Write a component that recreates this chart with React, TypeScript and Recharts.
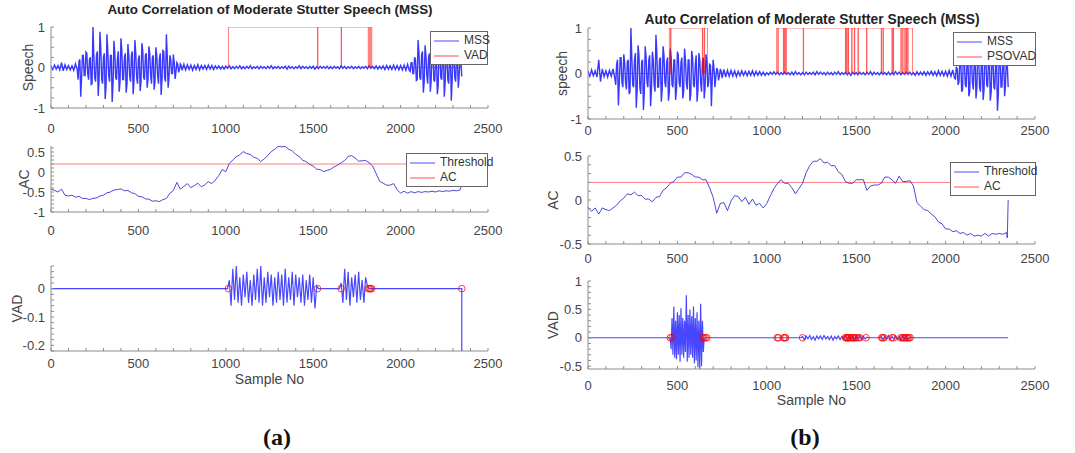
import React from "react";
import { ComposedChart, Line, Scatter, XAxis, YAxis } from "recharts";

// ---- data ----
const SAMPLE_STEP = 10; // speech values every 10 samples
const AC_STEP = 20; // auto correlation values every 20 samples

const xMajor = [0, 500, 1000, 1500, 2000, 2500];

// (a) speech, 0..2350
const mssA = [
  0.04, -0.05, 0.06, -0.04, 0.05, -0.06, 0.12, -0.08, 0.07, -0.05,
  0.05, -0.06, 0.04, -0.07, 0.09, -0.05, 0.15, -0.72, 0.3, -0.2,
  0.38, -0.15, 0.2, -0.42, 1.0, -0.25, 0.3, -0.7, 0.88, -0.3,
  0.25, -0.78, 0.82, -0.2, 0.3, -0.85, 0.66, -0.25, 0.22, -0.6,
  0.72, -0.3, 0.25, -0.62, 0.58, -0.2, 0.3, -0.66, 0.68, -0.25,
  0.2, -0.58, 0.6, -0.25, 0.3, -0.5, 0.52, -0.2, 0.25, -0.55,
  0.5, -0.2, 0.2, -0.68, 0.42, -0.25, 0.82, -0.5, 0.3, -0.15,
  0.32, -0.28, 0.12, -0.12, 0.09, -0.07, 0.08, -0.06, 0.07, -0.05,
  0.06, -0.07, 0.05, -0.05, 0.07, -0.06, 0.05, -0.04, 0.05, -0.05,
  0.06, -0.04, 0.05, -0.05, 0.04, -0.03, 0.04, -0.04, 0.03, -0.04,
  0.03, -0.02, 0.04, -0.03, 0.02, -0.03, 0.03, -0.02, 0.04, -0.03,
  0.02, -0.03, 0.03, -0.02, 0.04, -0.03, 0.02, -0.02, 0.03, -0.03,
  0.03, -0.02, 0.02, -0.03, 0.03, -0.02, 0.04, -0.03, 0.02, -0.02,
  0.03, -0.03, 0.02, -0.02, 0.03, -0.04, 0.03, -0.02, 0.02, -0.03,
  0.02, -0.02, 0.04, -0.03, 0.03, -0.02, 0.02, -0.03, 0.03, -0.02,
  0.03, -0.04, 0.02, -0.03, 0.03, -0.02, 0.02, -0.02, 0.03, -0.03,
  0.02, -0.03, 0.03, -0.02, 0.02, -0.03, 0.04, -0.02, 0.03, -0.03,
  0.02, -0.02, 0.03, -0.03, 0.02, -0.02, 0.03, -0.03, 0.02, -0.02,
  0.03, -0.03, 0.04, -0.02, 0.03, -0.03, 0.04, -0.04, 0.03, -0.03,
  0.04, -0.05, 0.05, -0.04, 0.04, -0.05, 0.06, -0.05, 0.05, -0.06,
  0.05, -0.06, 0.06, -0.07, 0.08, -0.08, 0.12, -0.15, 0.25, -0.32,
  0.68, -0.25, 0.3, -0.62, 0.55, -0.2, 0.25, -0.6, 0.52, -0.3,
  0.2, -0.66, 0.5, -0.25, 0.3, -0.72, 0.46, -0.3, 0.25, -0.82,
  0.45, -0.25, 0.3, -0.5, 0.3, -0.22,
];
// (a) voiced parts, in-between samples (155..745 and 2055..2345)
const mssAFine1 = [
  -0.3, 0.2, -0.25, 0.3, -0.2, 0.35, -0.3, 0.25, -0.4, 0.3,
  -0.35, 0.4, -0.3, 0.45, -0.4, 0.35, -0.45, 0.4, -0.35, 0.3,
  -0.4, 0.35, -0.3, 0.4, -0.35, 0.45, -0.3, 0.35, -0.4, 0.3,
  -0.35, 0.4, -0.3, 0.35, -0.4, 0.3, -0.35, 0.4, -0.3, 0.35,
  -0.3, 0.35, -0.4, 0.3, -0.35, 0.3, -0.4, 0.35, -0.3, 0.4,
  -0.35, 0.3, -0.25, 0.2, -0.15, 0.12, -0.1, 0.08, -0.06, 0.05,
];
const mssAFine2 = [
  -0.1, 0.12, -0.15, 0.2, -0.3, 0.35, -0.3, 0.4, -0.35, 0.3,
  -0.4, 0.35, -0.3, 0.4, -0.35, 0.3, -0.45, 0.35, -0.3, 0.4,
  -0.35, 0.3, -0.4, 0.35, -0.3, 0.3, -0.35, 0.25, -0.2, 0.15,
];

// (b) speech, 0..2350
const mssB = [
  0.05, -0.06, 0.08, -0.05, 0.06, -0.08, 0.3, -0.18, 0.1, -0.07,
  0.06, -0.08, 0.07, -0.06, 0.1, -0.1, 0.2, -0.7, 0.35, -0.2,
  0.42, -0.2, 0.25, -0.45, 1.0, -0.25, 0.3, -0.75, 0.62, -0.3,
  0.25, -0.8, 0.6, -0.2, 0.3, -0.72, 0.48, -0.25, 0.85, -0.3,
  0.3, -0.62, 0.6, -0.2, 0.25, -0.6, 0.55, -0.25, 0.3, -0.58,
  0.48, -0.2, 0.25, -0.55, 0.55, -0.2, 0.3, -0.6, 0.5, -0.25,
  0.2, -0.62, 0.45, -0.2, 0.25, -0.55, 0.42, -0.3, 0.2, -0.72,
  0.3, -0.3, 0.12, -0.15, 0.1, -0.1, 0.09, -0.08, 0.07, -0.06,
  0.07, -0.06, 0.06, -0.07, 0.05, -0.05, 0.06, -0.04, 0.05, -0.05,
  0.05, -0.04, 0.06, -0.05, 0.05, -0.04, 0.04, -0.04, 0.03, -0.04,
  0.02, -0.03, 0.03, -0.02, 0.04, -0.02, 0.03, -0.03, 0.02, -0.02,
  0.03, -0.02, 0.02, -0.03, 0.03, -0.03, 0.04, -0.02, 0.02, -0.03,
  0.02, -0.03, 0.03, -0.02, 0.02, -0.02, 0.03, -0.03, 0.04, -0.02,
  0.03, -0.02, 0.02, -0.03, 0.03, -0.02, 0.02, -0.03, 0.03, -0.02,
  0.04, -0.03, 0.02, -0.02, 0.03, -0.03, 0.02, -0.04, 0.03, -0.02,
  0.02, -0.03, 0.03, -0.02, 0.02, -0.03, 0.03, -0.02, 0.04, -0.03,
  0.03, -0.02, 0.02, -0.03, 0.03, -0.02, 0.02, -0.03, 0.03, -0.03,
  0.02, -0.03, 0.04, -0.02, 0.03, -0.03, 0.02, -0.02, 0.03, -0.02,
  0.03, -0.03, 0.02, -0.04, 0.04, -0.03, 0.03, -0.03, 0.04, -0.04,
  0.04, -0.03, 0.05, -0.04, 0.04, -0.05, 0.06, -0.04, 0.05, -0.05,
  0.05, -0.06, 0.07, -0.06, 0.08, -0.1, 0.15, -0.25, 0.35, -0.4,
  0.6, -0.25, 0.3, -0.5, 0.55, -0.2, 0.25, -0.55, 0.5, -0.3,
  0.25, -0.58, 0.5, -0.25, 0.3, -0.6, 0.45, -0.3, 0.25, -0.82,
  0.45, -0.3, 0.25, -0.5, 0.35, -0.3,
];
// (b) voiced parts, in-between samples (155..745 and 2055..2345)
const mssBFine1 = [
  -0.25, 0.3, -0.2, 0.35, -0.3, 0.25, -0.35, 0.3, -0.4, 0.35,
  -0.3, 0.45, -0.35, 0.4, -0.45, 0.3, -0.4, 0.35, -0.3, 0.4,
  -0.35, 0.3, -0.4, 0.45, -0.3, 0.35, -0.35, 0.4, -0.3, 0.35,
  -0.4, 0.35, -0.3, 0.3, -0.35, 0.4, -0.3, 0.35, -0.4, 0.3,
  -0.35, 0.3, -0.45, 0.35, -0.3, 0.4, -0.35, 0.3, -0.4, 0.35,
  -0.3, 0.25, -0.2, 0.18, -0.12, 0.1, -0.08, 0.07, -0.06, 0.05,
];
const mssBFine2 = [
  -0.12, 0.1, -0.18, 0.25, -0.35, 0.3, -0.3, 0.35, -0.4, 0.3,
  -0.35, 0.4, -0.3, 0.35, -0.4, 0.3, -0.35, 0.4, -0.3, 0.35,
  -0.4, 0.3, -0.35, 0.3, -0.45, 0.35, -0.3, 0.3, -0.25, 0.2,
];

// VAD decisions (switch sample, level from there on)
const vadASwitch = [0, 1015, 1525, 1527, 1660, 1662, 1815, 1820, 1825, 1830, 1835, 2350];
const vadALevel = [0, 1, 0, 1, 0, 1, 0, 1, 0, 1, 0, 0];
const vadBSwitch = [
  0, 455, 462, 464, 640, 642, 650, 652, 668, 1055, 1062, 1064, 1093, 1095, 1100, 1102, 1107, 1109,
  1204, 1206, 1440, 1442, 1447, 1449, 1455, 1457, 1475, 1477, 1490, 1492, 1510, 1512, 1558, 1560,
  1640, 1642, 1650, 1652, 1700, 1702, 1707, 1709, 1750, 1752, 1760, 1762, 1772, 1774, 1780, 1782,
  1788, 1790, 1815, 2350,
];
const vadBLevel = [
  0, 1, 0, 1, 0, 1, 0, 1, 0, 1, 0, 1, 0, 1, 0, 1, 0, 1,
  0, 1, 0, 1, 0, 1, 0, 1, 0, 1, 0, 1, 0, 1, 0, 1,
  0, 1, 0, 1, 0, 1, 0, 1, 0, 1, 0, 1, 0, 1, 0, 1,
  0, 1, 0, 0,
];

// auto correlation, 0..2340 every 20 samples, then the last two samples
const acA = [
  -0.42, -0.46, -0.5, -0.43, -0.58, -0.6, -0.58, -0.63, -0.61, -0.66,
  -0.66, -0.69, -0.66, -0.65, -0.6, -0.58, -0.52, -0.5, -0.45, -0.44,
  -0.42, -0.47, -0.46, -0.52, -0.54, -0.61, -0.62, -0.67, -0.68, -0.73,
  -0.72, -0.74, -0.69, -0.66, -0.53, -0.46, -0.26, -0.43, -0.36, -0.29,
  -0.39, -0.34, -0.28, -0.37, -0.32, -0.24, -0.29, -0.2, -0.09, 0.06,
  0.01, 0.21, 0.3, 0.38, 0.43, 0.51, 0.46, 0.44, 0.37, 0.34,
  0.26, 0.33, 0.41, 0.51, 0.57, 0.64, 0.63, 0.64, 0.57, 0.53,
  0.44, 0.39, 0.29, 0.26, 0.19, 0.15, 0.07, 0.06, 0.01, 0.04,
  0.07, 0.13, 0.17, 0.23, 0.29, 0.39, 0.41, 0.35, 0.27, 0.28,
  0.29, 0.23, 0.15, -0.04, -0.23, -0.28, -0.33, -0.33, -0.29, -0.44,
  -0.53, -0.48, -0.53, -0.49, -0.52, -0.49, -0.51, -0.49, -0.5, -0.48,
  -0.5, -0.47, -0.49, -0.47, -0.48, -0.46, -0.47, -0.45,
];
const acATail = [
  { x: 2345, y: -0.38 },
  { x: 2350, y: 0.05 },
];
const acB = [
  -0.08, -0.13, -0.09, -0.16, -0.09, -0.11, -0.12, -0.09, -0.06, -0.01,
  0.02, 0.07, 0.06, 0.09, 0.05, 0.05, 0.01, 0.01, -0.02, 0.03,
  0.04, 0.11, 0.14, 0.19, 0.21, 0.26, 0.26, 0.31, 0.31, 0.29,
  0.26, 0.26, 0.23, 0.23, 0.14, 0.03, -0.15, -0.04, -0.03, -0.12,
  -0.01, 0.05, 0.04, -0.02, 0.03, -0.05, 0.01, -0.06, -0.04, -0.09,
  -0.04, 0.05, 0.13, 0.19, 0.23, 0.19, 0.19, 0.14, 0.07, 0.13,
  0.19, 0.31, 0.39, 0.44, 0.44, 0.47, 0.42, 0.43, 0.39, 0.39,
  0.32, 0.29, 0.21, 0.19, 0.19, 0.23, 0.23, 0.23, 0.11, 0.16,
  0.17, 0.17, 0.19, 0.26, 0.26, 0.23, 0.19, 0.27, 0.21, 0.21,
  0.22, 0.16, -0.03, -0.07, -0.11, -0.12, -0.16, -0.19, -0.25, -0.27,
  -0.33, -0.33, -0.36, -0.35, -0.38, -0.37, -0.4, -0.38, -0.41, -0.4,
  -0.41, -0.38, -0.41, -0.38, -0.39, -0.38, -0.39, -0.37,
];
const acBTail = [
  { x: 2345, y: -0.43 },
  { x: 2350, y: 0.0 },
];
const thresholdA = 0.2;
const thresholdB = 0.2;

// speech kept by the VAD (bursts, rest is zero)
const keptA1Start = 1010;
const keptA1 = [
  0, 0.03, -0.06, 0.07, -0.04, 0.08, -0.05, 0.04, -0.06, 0.05, -0.03,
  0.06, -0.05, 0.03, -0.06, 0.05, -0.04, 0.07, -0.05, 0.08, -0.06,
  0.04, -0.05, 0.06, -0.03, 0.05, -0.06, 0.04, -0.05, 0.06, -0.04,
  0.05, -0.06, 0.07, -0.05, 0.04, -0.04, 0.06, -0.06, 0.05, -0.03,
  0.04, -0.05, 0.05, -0.06, 0.03, -0.04, 0.05, -0.05, 0.04, -0.07,
  0.01, 0,
];
const keptA2Start = 1650;
const keptA2 = [0, 0.02, -0.05, 0.07, -0.04, 0.06, -0.06, 0.04, -0.03, 0.05, -0.05, 0.06, -0.04, 0.03, -0.05, 0.04, 0.01, 0];
const keptAEnd = -0.6; // drop at the last sample
const markersA = [1015, 1525, 1660, 1815, 1822, 1828, 1835, 2350];

const keptB1Start = 460;
const keptB1Step = 5;
const keptB1 = [
  0, -0.2, 0.35, -0.3, 0.55, -0.35, 0.3, -0.38, 0.45, -0.3,
  0.4, -0.42, 0.52, -0.3, 0.35, -0.35, 0.3, -0.25, 0.75, -0.42,
  0.4, -0.35, 0.5, -0.3, 0.38, -0.35, 0.55, -0.45, 0.35, -0.4,
  0.45, -0.52, 0.3, -0.55, 0.6, -0.5, 0.3, -0.25, 0,
];
const keptB2Start = 1190;
const keptB2 = [
  0, 0.02, -0.03, 0.03, -0.02, 0.04, -0.03, 0.02, -0.04, 0.03, -0.02,
  0.03, -0.03, 0.04, -0.02, 0.02, -0.03, 0.03, -0.04, 0.02, -0.02,
  0.03, -0.03, 0.02, -0.02, 0.04, -0.03, 0.03, -0.02, 0.02, -0.03,
  0.03, -0.02, 0.04, -0.03, 0.02, -0.02, 0.01, 0,
];
const keptB3Start = 1630;
const keptB3 = [0, 0.02, -0.03, 0.03, -0.02, 0.04, -0.03, 0.02, -0.02, 0.03, -0.03, 0.02, -0.04, 0.03, -0.02, 0.02, -0.03, 0.01, 0];
const markersB = [
  460, 470, 640, 648, 656, 665, 1058, 1065, 1095, 1100, 1106, 1200, 1440, 1445, 1450, 1455, 1462, 1470,
  1478, 1485, 1492, 1500, 1512, 1520, 1555, 1642, 1648, 1656, 1700, 1708, 1750, 1758, 1765, 1772, 1780,
  1788, 1795, 1802,
];

// ---- tables ----
type Row = { x: number; y: number };
const series = (vals: number[], start: number, step: number): Row[] =>
  vals.map((y, i) => ({ x: start + i * step, y }));
const byX = (a: Row, b: Row) => a.x - b.x;

const mssARows = [
  ...series(mssA, 0, SAMPLE_STEP),
  ...series(mssAFine1, 155, SAMPLE_STEP),
  ...series(mssAFine2, 2055, SAMPLE_STEP),
].sort(byX);
const mssBRows = [
  ...series(mssB, 0, SAMPLE_STEP),
  ...series(mssBFine1, 155, SAMPLE_STEP),
  ...series(mssBFine2, 2055, SAMPLE_STEP),
].sort(byX);
const vadARows = vadASwitch.map((x, i) => ({ x, y: vadALevel[i] }));
const vadBRows = vadBSwitch.map((x, i) => ({ x, y: vadBLevel[i] }));
const acARows = [...series(acA, 0, AC_STEP), ...acATail];
const acBRows = [...series(acB, 0, AC_STEP), ...acBTail];
const thrARows = [{ x: 0, y: thresholdA }, { x: 2350, y: thresholdA }];
const thrBRows = [{ x: 0, y: thresholdB }, { x: 2350, y: thresholdB }];
const keptARows = [
  { x: 0, y: 0 },
  ...series(keptA1, keptA1Start, SAMPLE_STEP),
  ...series(keptA2, keptA2Start, SAMPLE_STEP),
  { x: 2350, y: 0 },
  { x: 2350, y: keptAEnd },
];
const keptBRows = [
  { x: 0, y: 0 },
  ...series(keptB1, keptB1Start, keptB1Step),
  ...series(keptB2, keptB2Start, SAMPLE_STEP),
  ...series(keptB3, keptB3Start, SAMPLE_STEP),
  { x: 2350, y: 0 },
];
const markerARows = markersA.map((x) => ({ x, y: 0 }));
const markerBRows = markersB.map((x) => ({ x, y: 0 }));

// ---- look ----
const FONT = '"Liberation Sans", Arial, Helvetica, sans-serif';
const AXIS = "#8c8c8c";
const TEXT = "#444";
const BLUE = "#0000ff";
const RED = "#ff0000";
const PAD_T = 10;
const PAD_R = 24;
const X_H = 46;

const xMinor = Array.from({ length: 26 }, (_, i) => i * 100);
const steps = (lo: number, hi: number, d: number) => {
  const out: number[] = [];
  for (let v = lo; v <= hi + 1e-9; v += d) out.push(Math.round(v * 1000) / 1000);
  return out;
};

type Box = { x: number; y: number; w: number; h: number };
type PanelProps = {
  box: Box;
  yw: number;
  domain: [number, number];
  yTicks: number[];
  yShown: number[];
  yLabel: string;
  yLabelX: number;
  xGap: number;
  xLabelOffset?: number;
  children: React.ReactNode;
};

const Panel = ({ box, yw, domain, yTicks, yShown, yLabel, yLabelX, xGap, xLabelOffset, children }: PanelProps) => {
  const left = box.x - yw;
  const fmtX = (v: number) => (xMajor.includes(v) ? String(v) : "");
  const fmtY = (v: number) => {
    const r = Math.round(v * 1000) / 1000;
    return yShown.includes(r) ? String(r) : "";
  };
  return (
    <div style={{ position: "absolute", left, top: box.y - PAD_T }}>
      <ComposedChart
        width={box.w + yw + PAD_R}
        height={box.h + PAD_T + X_H}
        margin={{ top: PAD_T, right: PAD_R, bottom: 0, left: 0 }}
      >
        <XAxis
          xAxisId="b"
          type="number"
          dataKey="x"
          domain={[0, 2500]}
          ticks={xMinor}
          interval={0}
          tickFormatter={fmtX}
          height={X_H}
          tickSize={-3}
          tickMargin={xGap - 1}
          stroke={AXIS}
          tick={{ fill: TEXT, fontSize: 13 }}
          allowDataOverflow
          label={
            xLabelOffset === undefined
              ? undefined
              : { value: "Sample No", position: "insideBottom", offset: xLabelOffset, fill: TEXT, fontSize: 14 }
          }
        />
        <XAxis
          xAxisId="t"
          orientation="top"
          type="number"
          dataKey="x"
          domain={[0, 2500]}
          ticks={xMinor}
          interval={0}
          tick={false}
          height={0}
          tickSize={-3}
          stroke={AXIS}
          allowDataOverflow
        />
        <YAxis
          yAxisId="l"
          type="number"
          dataKey="y"
          domain={domain}
          ticks={yTicks}
          interval={0}
          tickFormatter={fmtY}
          width={yw}
          tickSize={-3}
          tickMargin={9}
          stroke={AXIS}
          tick={{ fill: TEXT, fontSize: 13 }}
          allowDataOverflow
          label={{
            value: yLabel,
            angle: -90,
            position: "insideLeft",
            offset: yLabelX - left,
            fill: TEXT,
            fontSize: 14,
            style: { textAnchor: "middle" },
          }}
        />
        <YAxis
          yAxisId="r"
          orientation="right"
          type="number"
          dataKey="y"
          domain={domain}
          ticks={yTicks}
          interval={0}
          tick={false}
          width={0}
          tickSize={-3}
          stroke={AXIS}
          allowDataOverflow
        />
        {children}
      </ComposedChart>
    </div>
  );
};

const on = { xAxisId: "b", yAxisId: "l" } as const;

const ring = (color: string) => (p: any) =>
  <circle cx={p.cx} cy={p.cy} r={3.3} fill="none" stroke={color} strokeOpacity={0.75} strokeWidth={1} />;

const LegendBox = ({ x, y, w, items }: { x: number; y: number; w: number; items: [string, string][] }) => (
  <div
    style={{
      position: "absolute",
      left: x,
      top: y,
      width: w,
      background: "#fff",
      border: "1px solid #666",
      padding: "1px 0",
      fontSize: 12,
      lineHeight: "15px",
      color: "#333",
    }}
  >
    {items.map(([name, color]) => (
      <div key={name} style={{ display: "flex", alignItems: "center" }}>
        <svg width={30} height={15} style={{ flex: "none" }}>
          <line x1={3} x2={28} y1={8} y2={8} stroke={color} strokeOpacity={0.7} />
        </svg>
        <span style={{ marginLeft: 3 }}>{name}</span>
      </div>
    ))}
  </div>
);

const Title = ({ cx, cy, size }: { cx: number; cy: number; size: number }) => (
  <div
    style={{
      position: "absolute",
      left: cx,
      top: cy,
      transform: "translate(-50%, -50%)",
      whiteSpace: "nowrap",
      fontWeight: "bold",
      fontSize: size,
      color: "#222",
    }}
  >
    Auto Correlation of Moderate Stutter Speech (MSS)
  </div>
);

const Caption = ({ cx, text }: { cx: number; text: string }) => (
  <div
    style={{
      position: "absolute",
      left: cx,
      top: 437,
      transform: "translate(-50%, -50%)",
      fontFamily: '"Liberation Serif", "Times New Roman", serif',
      fontWeight: "bold",
      fontSize: 24,
      color: "#111",
    }}
  >
    {text}
  </div>
);

const speechTicks = steps(-1, 1, 0.25);
const blueLine = { dataKey: "y", stroke: BLUE, strokeOpacity: 0.72, strokeWidth: 1, dot: false, isAnimationActive: false } as const;
const speechLine = { ...blueLine, strokeWidth: 1.4, strokeOpacity: 0.78 } as const;
const redLine = { dataKey: "y", stroke: RED, strokeOpacity: 0.5, strokeWidth: 1, dot: false, isAnimationActive: false } as const;

export default function App() {
  return (
    <div
      style={{
        position: "absolute",
        left: 0,
        top: 0,
        width: 1075,
        height: 453,
        background: "#fff",
        fontFamily: FONT,
        overflow: "hidden",
      }}
    >
      {/* (a) */}
      <Title cx={270} cy={9} size={13.4} />
      <Panel box={{ x: 51, y: 27, w: 437, h: 81 }} yw={51} domain={[-1, 1]} yTicks={speechTicks} yShown={[-1, 0, 1]} yLabel="Speech" yLabelX={28} xGap={20}>
        <Line {...on} {...speechLine} data={mssARows} />
        <Line {...on} {...redLine} data={vadARows} type="stepAfter" />
      </Panel>
      <LegendBox x={430} y={31} w={56} items={[["MSS", BLUE], ["VAD", RED]]} />

      <Panel box={{ x: 51, y: 146, w: 437, h: 66 }} yw={51} domain={[-1, 0.65]} yTicks={steps(-1, 0.6, 0.1)} yShown={[-1, -0.5, 0, 0.5]} yLabel="AC" yLabelX={24} xGap={18}>
        <Line {...on} {...redLine} data={thrARows} />
        <Line {...on} {...blueLine} data={acARows} stroke="#2a2ad0" strokeOpacity={0.85} />
      </Panel>
      <LegendBox x={406} y={153} w={80} items={[["Threshold", BLUE], ["AC", RED]]} />

      <Panel box={{ x: 51, y: 266, w: 437, h: 85 }} yw={51} domain={[-0.22, 0.08]} yTicks={steps(-0.22, 0.08, 0.02)} yShown={[-0.2, -0.1, 0]} yLabel="VAD" yLabelX={17} xGap={12} xLabelOffset={13}>
        <Line {...on} {...blueLine} data={keptARows} strokeWidth={1.2} />
        <Scatter {...on} data={markerARows} shape={ring(RED)} isAnimationActive={false} />
      </Panel>

      {/* (b) */}
      <Title cx={812} cy={19} size={13.8} />
      <Panel box={{ x: 588, y: 28, w: 447, h: 91 }} yw={60} domain={[-1, 1]} yTicks={speechTicks} yShown={[-1, 0, 1]} yLabel="speech" yLabelX={562} xGap={11}>
        <Line {...on} {...speechLine} data={mssBRows} />
        <Line {...on} {...redLine} data={vadBRows} type="stepAfter" />
      </Panel>
      <LegendBox x={953} y={32} w={81} items={[["MSS", BLUE], ["PSOVAD", RED]]} />

      <Panel box={{ x: 588, y: 156, w: 447, h: 88 }} yw={60} domain={[-0.5, 0.5]} yTicks={steps(-0.5, 0.5, 0.1)} yShown={[-0.5, 0, 0.5]} yLabel="AC" yLabelX={553} xGap={14}>
        <Line {...on} {...redLine} data={thrBRows} />
        <Line {...on} {...blueLine} data={acBRows} stroke="#2a2ad0" strokeOpacity={0.85} />
      </Panel>
      <LegendBox x={950} y={162} w={84} items={[["Threshold", BLUE], ["AC", RED]]} />

      <Panel box={{ x: 588, y: 281, w: 447, h: 88 }} yw={60} domain={[-0.55, 1]} yTicks={steps(-0.5, 1, 0.1)} yShown={[-0.5, 0, 0.5, 1]} yLabel="VAD" yLabelX={553} xGap={16} xLabelOffset={10}>
        <Line {...on} {...blueLine} data={keptBRows} strokeWidth={1.2} />
        <Scatter {...on} data={markerBRows} shape={ring(RED)} isAnimationActive={false} />
      </Panel>

      <Caption cx={277} text="(a)" />
      <Caption cx={805} text="(b)" />
    </div>
  );
}
